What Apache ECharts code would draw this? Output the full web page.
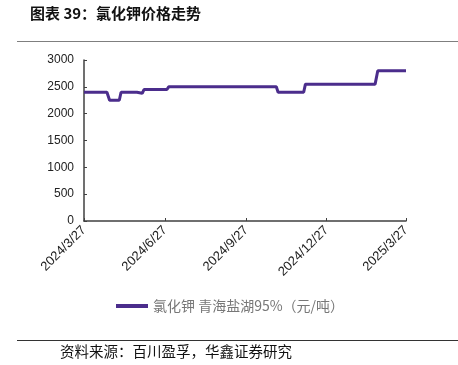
<!DOCTYPE html>
<html>
<head>
<meta charset="utf-8">
<script src="https://cdn.jsdelivr.net/npm/echarts@6/dist/echarts.min.js"></script>
<style>
  html, body { margin: 0; padding: 0; background: #fff; }
  #chart { width: 458px; height: 365px; }
</style>
</head>
<body>
<div id="chart"></div>
<script>
// 氯化钾 青海盐湖95% 价格（元/吨）
const priceDates = [
  '2024-03-27', '2024-04-22', '2024-04-25', '2024-05-06', '2024-05-08',
  '2024-05-26', '2024-05-28', '2024-06-01', '2024-06-03', '2024-06-29',
  '2024-07-01', '2024-10-31', '2024-11-02', '2024-12-01', '2024-12-03',
  '2025-02-20', '2025-02-23', '2025-03-27',
];
const priceValues = [
  2400, 2400, 2250, 2250, 2400,
  2400, 2380, 2380, 2450, 2450,
  2500, 2500, 2400, 2400, 2550,
  2550, 2800, 2800,
];
const tickDates = ['2024-03-27', '2024-06-27', '2024-09-27', '2024-12-27', '2025-03-27'];
const seriesName = '氯化钾 青海盐湖95%（元/吨）';

const toTs = (s) => {
  const [y, m, d] = s.split('-').map(Number);
  return new Date(y, m - 1, d).getTime();
};
const tickTs = tickDates.map(toTs);

const myChart = echarts.init(document.getElementById('chart'));
const axisColor = '#404040';
const cjk = '"Noto Sans CJK SC", sans-serif';
const latin = '"Liberation Sans", Arial, sans-serif';

myChart.setOption({
  animation: false,
  title: {
    text: '图表 39：氯化钾价格走势',
    left: 25,
    top: 1,
    textStyle: { fontFamily: cjk, fontSize: 15, fontWeight: 'bold', color: '#111' },
  },
  grid: { left: 84, right: 52, top: 60, bottom: 144 },
  legend: {
    data: [seriesName],
    top: 299,
    left: 116,
    padding: 0,
    itemWidth: 32,
    itemHeight: 4,
    itemGap: 2,
    icon: 'rect',
    textStyle: { fontFamily: cjk, fontSize: 14, color: '#777' },
  },
  xAxis: {
    type: 'value',
    min: tickTs[0],
    max: tickTs[tickTs.length - 1],
    axisLine: { lineStyle: { color: axisColor, width: 1.5 } },
    axisTick: { show: true, inside: true, length: 3, customValues: tickTs, lineStyle: { color: axisColor } },
    splitLine: { show: false },
    axisLabel: {
      customValues: tickTs,
      rotate: 45,
      fontFamily: latin,
      fontSize: 13,
      color: '#222',
      margin: 7,
      formatter: (v) => {
        const d = new Date(v);
        return `${d.getFullYear()}/${d.getMonth() + 1}/${d.getDate()}`;
      },
    },
  },
  yAxis: {
    type: 'value',
    min: 0,
    max: 3000,
    interval: 500,
    axisLine: { show: true, lineStyle: { color: axisColor, width: 1.5 } },
    axisTick: { show: true, inside: true, length: 3, lineStyle: { color: axisColor } },
    splitLine: { show: false },
    axisLabel: {
      fontFamily: latin,
      fontSize: 12,
      color: '#222',
      margin: 10,
      formatter: (v) => String(v),
    },
  },
  series: [{
    name: seriesName,
    type: 'line',
    data: priceDates.map((d, i) => [toTs(d), priceValues[i]]),
    showSymbol: false,
    lineStyle: { color: '#4b2d8c', width: 3 },
    itemStyle: { color: '#4b2d8c' },
  }],
  graphic: [
    { type: 'rect', shape: { x: 17, y: 41, width: 441, height: 1 }, style: { fill: '#7f7f7f' } },
    { type: 'rect', shape: { x: 17, y: 340, width: 441, height: 1 }, style: { fill: '#333' } },
    {
      type: 'text', left: 60, top: 344,
      style: { text: '资料来源：百川盈孚，华鑫证券研究', font: `14.5px ${cjk}`, fill: '#111' },
    },
  ],
});
</script>
</body>
</html>
